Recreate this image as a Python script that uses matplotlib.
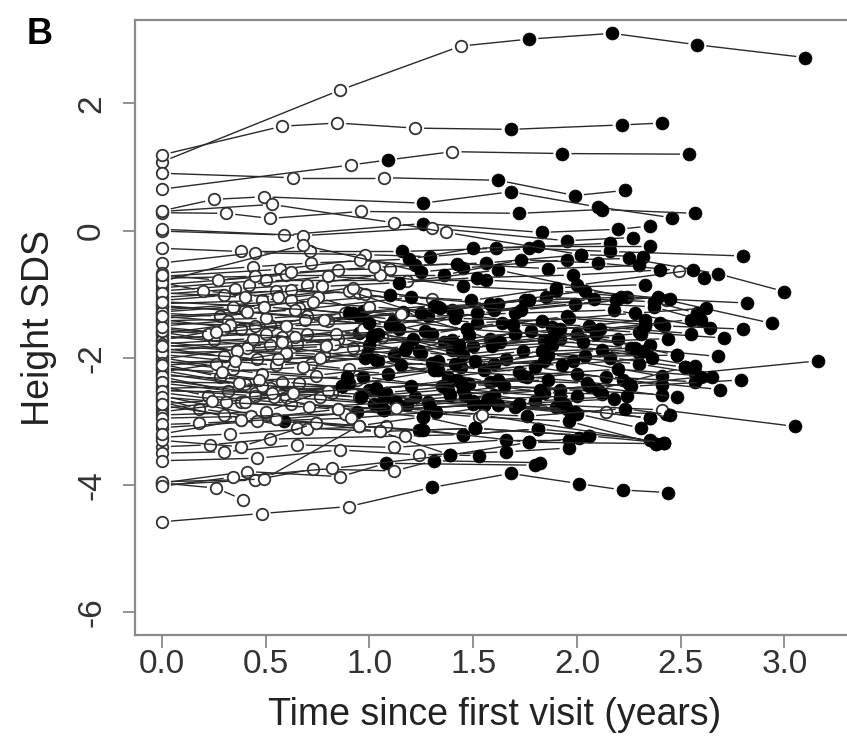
import numpy as np
import matplotlib
matplotlib.use("Agg")
import matplotlib.pyplot as plt
from matplotlib.collections import LineCollection

plt.rcParams['font.family'] = ['Liberation Sans', 'DejaVu Sans']

# one entry per child: visit times (years), height SDS, and marker per visit
# ('o' = open circle, 'f' = filled circle)
visit_times = [
    [0, 0.86, 1.44, 1.77, 2.17, 2.58, 3.10],
    [0, 0.58, 0.845, 1.22, 1.68, 2.215, 2.41],
    [0, 0.91, 1.09, 1.40, 1.93, 2.54],
    [0, 0.63, 1.07, 1.62, 1.99, 2.23],
    [0, 0.25, 0.49, 1.26, 1.68, 2.10, 2.46],
    [0, 0.31, 0.52, 0.96, 1.72, 2.12, 2.57],
    [0, 0.59, 1.26, 1.83, 2.20, 2.35],
    [0, 0.68, 1.30, 1.95, 2.27],
    [0, 0.38, 0.715, 1.155, 1.61, 2.16],
    [0, 0.45, 0.98, 1.29, 1.77, 2.16, 2.80],
    [0, 0.44, 0.72, 1.19, 1.50, 1.81, 2.35],
    [0, 0.57, 0.955, 1.22, 1.56, 2.02, 2.32],
    [0, 0.68, 1.25, 1.45, 1.95, 2.25, 2.68, 3.00],
    [0, 0.60, 1.36, 1.73, 2.10, 2.49, 2.61],
    [0, 0.50, 1.56, 2.00, 2.56],
    [0, 0.53, 1.12, 1.37, 2.02],
    [0, 0.42, 0.80, 1.18, 1.62, 2.24, 2.82],
    [0, 0.35, 0.70, 1.05, 1.45, 1.90, 2.43, 2.94],
    [0, 0.55, 0.95, 1.40, 1.85, 2.37, 2.58],
    [0, 0.30, 0.62, 0.98, 1.33, 1.75, 2.37, 2.60],
    [0, 0.48, 0.90, 1.28, 1.70, 2.18, 2.64],
    [0, 0.40, 0.75, 0.97, 1.52, 1.96, 2.42, 2.80],
    [0, 0.62, 1.00, 1.42, 1.88, 2.30, 2.71],
    [0, 0.28, 0.66, 1.12, 1.47, 1.95, 2.40],
    [0, 0.52, 0.88, 1.30, 1.64, 2.06, 2.55],
    [0, 0.38, 0.80, 1.16, 1.58, 2.00, 2.48],
    [0, 0.45, 0.95, 1.36, 1.78, 2.20],
    [0, 0.32, 0.70, 1.06, 1.50, 1.92, 2.35],
    [0, 0.58, 0.97, 1.40, 1.84, 2.26, 2.68],
    [0, 0.25, 0.65, 1.02, 1.45, 1.88, 2.30],
    [0, 0.42, 0.85, 1.25, 1.66, 2.12, 2.57],
    [0, 0.50, 0.92, 1.33, 1.74, 2.16, 2.52],
    [0, 0.36, 0.78, 1.18, 1.60, 2.04, 2.48],
    [0, 0.60, 1.04, 1.44, 1.86, 2.30, 2.57, 3.16],
    [0, 0.30, 0.72, 1.12, 1.55, 1.98, 2.41],
    [0, 0.46, 0.90, 1.30, 1.72, 2.14, 2.57],
    [0, 0.55, 0.98, 1.38, 1.80, 2.22, 2.69],
    [0, 0.34, 0.74, 1.15, 1.58, 2.00, 2.41],
    [0, 0.48, 0.94, 1.35, 1.76, 2.26, 2.79],
    [0, 0.28, 0.66, 1.08, 1.48, 1.92, 2.41],
    [0, 0.58, 1.00, 1.42, 1.84, 2.12],
    [0, 0.40, 0.82, 1.22, 1.65, 2.10, 2.52],
    [0, 0.52, 0.95, 1.38, 1.80, 2.24],
    [0, 0.32, 0.76, 1.18, 1.60, 2.06, 2.48],
    [0, 0.45, 0.87, 1.28, 1.70, 2.14, 2.43],
    [0, 0.60, 1.02, 1.46, 1.90, 2.35],
    [0, 0.22, 0.62, 1.06, 1.50, 1.94, 2.41, 3.05],
    [0, 0.45, 0.94, 1.55, 2.00, 2.31],
    [0, 0.38, 0.85, 1.26, 1.62, 2.14],
    [0, 0.55, 1.07, 1.53, 1.96, 2.38],
    [0, 0.18, 0.59, 0.95, 1.45, 1.81, 2.35],
    [0, 0.38, 0.74, 1.24, 1.51, 2.06, 2.42],
    [0, 0.30, 0.65, 1.05, 1.39, 1.77, 2.01],
    [0, 0.54, 0.87, 1.07, 1.50, 1.95, 2.35],
    [0, 0.40, 0.90, 1.07, 1.55, 1.99],
    [0, 0.50, 0.97, 1.45, 1.92],
    [0, 0.45, 0.85, 1.10],
    [0, 0.33, 0.95, 1.25, 1.62],
    [0, 0.52, 1.03, 1.40, 1.92, 2.33],
    [0, 0.26, 0.60, 1.00, 1.48],
    [0, 0.70, 1.14, 1.60, 2.08],
    [0, 0.48, 0.87, 1.33, 1.84, 2.32],
    [0, 0.20, 0.56, 0.92, 1.30],
    [0, 0.64, 1.20, 1.58, 2.04, 2.45],
    [0, 0.41, 0.83, 1.24, 1.70],
    [0, 0.30, 0.69, 1.10, 1.52, 1.99, 2.39],
    [0, 0.27, 0.62, 1.02, 1.42, 1.86, 2.30],
    [0, 0.40, 0.77, 1.14, 1.52, 1.98, 2.40],
    [0, 0.34, 0.73, 1.10, 1.49, 1.90, 2.33],
    [0, 0.50, 0.90, 1.31, 1.73, 2.19],
    [0, 0.22, 0.60, 1.00, 1.41, 1.83, 2.28, 2.62],
    [0, 0.44, 0.84, 1.27, 1.69, 2.11, 2.55],
    [0, 0.36, 0.79, 1.21, 1.63, 2.09],
    [0, 0.56, 0.99, 1.41, 1.83, 2.28],
    [0, 0.29, 0.68, 1.09, 1.51, 1.93, 2.36],
    [0, 0.47, 0.89, 1.31, 1.74, 2.20, 2.65],
    [0, 0.37, 0.80, 1.20, 1.62, 2.05],
    [0, 0.53, 0.96, 1.39, 1.82, 2.25, 2.60],
    [0, 0.31, 0.71, 1.13, 1.57, 2.00],
    [0, 0.43, 0.88, 1.29, 1.72, 2.18],
    [0, 0.26, 0.64, 1.04, 1.47, 1.89, 2.33],
    [0, 0.49, 0.92, 1.34, 1.77, 2.21],
    [0, 0.35, 0.76, 1.17, 1.59, 2.03, 2.44],
    [0, 0.58, 1.01, 1.43, 1.87, 2.31],
    [0, 0.24, 0.63, 1.03, 1.44, 1.86],
    [0, 0.46, 0.91, 1.32, 1.76, 2.23, 2.45],
    [0, 0.33, 0.70, 1.08],
    [0, 0.41, 0.78, 1.15],
    [0, 0.23, 0.52, 1.17, 1.45, 1.81],
    [0, 0.30, 0.65, 1.12, 1.66, 1.96],
    [0, 0.46, 0.86, 1.24, 1.66, 1.96],
    [0, 0.38, 0.74, 1.05, 1.51, 2.06],
    [0, 0.18, 0.55, 0.95, 1.26, 1.77, 2.38],
    [0, 0.38, 0.85, 1.13, 1.54, 2.42],
    [0, 0.48, 0.90, 1.30, 1.68, 2.01, 2.22, 2.44],
    [0, 0.26, 0.39],
    [0, 0.41, 0.86, 1.08, 1.80],
    [0, 0.45, 0.73, 1.12, 1.31, 1.82],
    [0, 0.49, 0.95, 1.26, 1.51],
    [0, 0.34, 0.82, 1.39, 1.53],
]

height_sds = [
    [1.08, 2.21, 2.90, 3.01, 3.10, 2.92, 2.72],
    [1.19, 1.64, 1.69, 1.61, 1.59, 1.66, 1.69],
    [0.65, 1.03, 1.11, 1.24, 1.21, 1.20],
    [0.90, 0.83, 0.83, 0.79, 0.55, 0.63],
    [0.31, 0.49, 0.53, 0.43, 0.61, 0.37, 0.20],
    [0.28, 0.27, 0.19, 0.30, 0.27, 0.33, 0.27],
    [-0.01, -0.07, 0.11, -0.03, 0.02, 0.07],
    [0.02, -0.08, 0.04, -0.16, -0.11],
    [-0.28, -0.33, -0.33, -0.33, -0.28, -0.20],
    [-0.51, -0.35, -0.38, -0.41, -0.28, -0.33, -0.40],
    [-0.67, -0.57, -0.51, -0.45, -0.28, -0.25, -0.25],
    [-0.72, -0.61, -0.46, -0.55, -0.51, -0.38, -0.41],
    [-0.80, -0.23, -0.65, -0.59, -0.46, -0.44, -0.68, -0.96],
    [-0.85, -0.70, -0.70, -0.46, -0.51, -0.63, -0.75],
    [-0.90, -0.78, -0.78, -0.86, -0.62],
    [0.30, 0.41, 0.12, -0.03, -0.38],
    [-0.95, -0.85, -0.72, -0.80, -0.62, -1.05, -1.14],
    [-1.00, -0.92, -0.85, -0.70, -0.88, -0.95, -1.09, -1.46],
    [-1.05, -0.95, -0.98, -1.25, -1.05, -1.12, -1.30],
    [-1.10, -1.02, -0.93, -1.00, -1.20, -1.10, -1.20, -1.41],
    [-1.15, -1.10, -0.95, -1.35, -1.30, -1.25, -1.54],
    [-1.20, -1.25, -1.05, -1.27, -1.45, -1.38, -1.50, -1.55],
    [-1.25, -1.10, -1.20, -1.30, -1.52, -1.60, -1.69],
    [-1.30, -1.35, -1.22, -1.40, -1.55, -1.35, -1.45],
    [-1.35, -1.48, -1.30, -1.62, -1.45, -1.50, -1.62],
    [-1.40, -1.55, -1.42, -1.28, -1.70, -1.62, -1.96],
    [-1.45, -1.50, -1.61, -1.75, -1.58, -1.70],
    [-1.50, -1.42, -1.62, -1.68, -1.82, -1.70, -1.80],
    [-1.55, -1.68, -1.55, -1.88, -1.72, -1.85, -1.98],
    [-1.60, -1.72, -1.78, -1.65, -1.95, -1.80, -1.92],
    [-1.65, -1.80, -1.70, -1.92, -2.02, -1.88, -2.13],
    [-1.70, -1.62, -1.85, -2.05, -1.90, -2.00, -2.15],
    [-1.75, -1.88, -1.95, -1.82, -2.10, -1.98, -1.96],
    [-1.80, -1.95, -2.05, -2.15, -1.95, -2.10, -2.24, -2.05],
    [-1.85, -1.98, -2.10, -1.95, -2.20, -2.05, -2.29],
    [-1.90, -2.02, -2.18, -2.08, -2.22, -2.30, -2.38],
    [-1.95, -2.12, -2.00, -2.30, -2.15, -2.35, -2.50],
    [-2.00, -2.18, -2.28, -2.12, -2.38, -2.25, -2.43],
    [-2.05, -2.25, -2.35, -2.45, -2.30, -2.45, -2.35],
    [-2.10, -2.30, -2.40, -2.55, -2.42, -2.50, -2.58],
    [-2.15, -2.38, -2.50, -2.35, -2.55, -2.57],
    [-2.20, -2.42, -2.55, -2.62, -2.45, -2.50, -2.15],
    [-2.25, -2.48, -2.62, -2.50, -2.68, -2.60],
    [-2.30, -2.52, -2.62, -2.75, -2.58, -2.45, -2.62],
    [-2.35, -2.55, -2.45, -2.70, -2.78, -2.86, -2.88],
    [-2.40, -2.62, -2.72, -2.60, -2.78, -2.95],
    [-2.45, -2.60, -2.72, -2.80, -2.68, -2.75, -2.82, -3.08],
    [-2.50, -2.60, -2.85, -2.74, -2.88, -3.11],
    [-2.55, -2.70, -2.81, -2.93, -2.74, -2.86],
    [-2.60, -2.97, -2.82, -2.93, -3.00, -3.35],
    [-2.65, -2.80, -3.00, -3.07, -3.21, -3.12, -3.29],
    [-2.70, -2.98, -3.03, -3.14, -3.11, -3.23, -3.34],
    [-2.75, -2.90, -3.10, -3.16, -3.53, -3.33, -3.27],
    [-2.80, -2.61, -2.45, -2.61, -2.72, -2.80, -2.95],
    [-2.85, -2.70, -2.40, -2.82, -2.74, -2.85],
    [-2.90, -2.85, -2.30, -2.50, -2.62],
    [-0.75, -0.72, -0.62, -0.60],
    [-1.62, -1.48, -1.35, -1.30, -1.15],
    [-1.88, -1.80, -2.03, -1.72, -1.55, -1.40],
    [-2.22, -2.10, -1.92, -1.80, -1.65],
    [-1.18, -1.35, -1.55, -1.25, -1.08],
    [-2.48, -2.45, -2.45, -2.20, -2.05, -1.90],
    [-0.82, -0.95, -1.05, -0.90, -1.08],
    [-1.38, -1.25, -1.05, -1.15, -0.95, -1.08],
    [-2.02, -1.85, -1.78, -1.90, -1.62],
    [-1.72, -1.55, -1.40, -1.48, -1.30, -1.15, -1.05],
    [-0.70, -0.78, -0.66, -0.58, -0.52, -0.60, -0.55],
    [-0.98, -1.05, -0.88, -0.82, -0.74, -0.70, -0.62],
    [-1.28, -1.20, -1.12, -1.02, -1.10, -0.90, -0.85],
    [-1.42, -1.38, -1.30, -1.18, -1.25, -1.10],
    [-1.58, -1.62, -1.50, -1.45, -1.38, -1.42, -1.30, -1.22],
    [-1.78, -1.70, -1.62, -1.58, -1.48, -1.55, -1.40],
    [-1.92, -1.90, -1.82, -1.70, -1.75, -1.62],
    [-2.08, -2.02, -1.95, -2.10, -1.90, -1.85],
    [-2.18, -2.22, -2.15, -2.25, -2.05, -2.12, -2.00],
    [-2.28, -2.35, -2.30, -2.20, -2.28, -2.18, -2.30],
    [-2.38, -2.40, -2.52, -2.45, -2.35, -2.40],
    [-2.52, -2.55, -2.62, -2.58, -2.50, -2.42, -2.30],
    [-2.62, -2.70, -2.78, -2.70, -2.65, -2.60],
    [-2.95, -2.92, -2.88, -2.78, -2.72, -2.65],
    [-1.52, -1.60, -1.68, -1.62, -1.55, -1.65, -1.50],
    [-1.12, -1.20, -1.30, -1.22, -1.10, -1.05],
    [-2.12, -2.05, -2.00, -1.88, -1.82, -1.75, -1.70],
    [-1.82, -1.75, -1.68, -1.80, -1.72, -1.62],
    [-2.72, -2.68, -2.55, -2.48, -2.40, -2.35],
    [-3.10, -3.00, -2.95, -2.85, -2.92, -2.80, -2.90],
    [-3.25, -3.20, -3.12, -3.08],
    [-1.35, -1.28, -1.40, -1.32],
    [-3.40, -3.37, -3.28, -3.23, -3.21, -3.12],
    [-3.50, -3.48, -3.37, -3.41, -3.29, -3.29],
    [-3.62, -3.58, -3.45, -3.53, -3.48, -3.42],
    [-3.30, -3.40, -3.03, -3.16, -3.11, -3.23],
    [-3.05, -3.03, -2.97, -3.07, -3.14, -3.33, -3.35],
    [-3.20, -2.98, -2.81, -2.79, -2.90, -3.34],
    [-4.58, -4.45, -4.34, -4.04, -3.82, -3.98, -4.08, -4.12],
    [-3.97, -4.05, -4.23],
    [-3.97, -3.79, -3.87, -3.66, -3.69],
    [-4.00, -3.92, -3.75, -3.78, -3.62, -3.65],
    [-3.95, -3.91, -3.07, -2.93, -3.11],
    [-4.02, -3.88, -3.74, -3.53, -3.54],
]

visit_marker = [
    "oooffff", "oooofff", "oofoff", "ooofff", "oooffff", "oooofff",
    "ooffff", "oooff", "ooofff", "oooffff", "oooffff", "oooffff",
    "ooffffff", "oofffof", "oofff", "oooof",
    "oooofff", "ooooffof", "oooffff", "ooooffff", "oooffff", "ooofffff",
    "oooffff", "oooffff", "oooffff", "oooffff", "ooffff", "oooofff",
    "oooffff", "oooffff", "oooffff", "oooffff", "oooffff", "ooffffff",
    "oooffff", "oooffff", "oofffff", "oooffff", "oooffff", "oooffff",
    "ooffff", "oooffff", "ooofff", "oooffff", "oofffof", "ooffff",
    "ooofffof", "ooffff", "oooffo", "oofoff", "oofofff", "oooffff",
    "oooofff", "oofffff", "ooffff", "oofff",
    "oooo", "oofff", "ooffff", "oooff", "oofff", "ooffff", "ooooo",
    "ooffff", "oooff", "oooffff",
    "oooofff", "oooffff", "oooffff", "ooffff", "ooofffff", "oooffff",
    "ooofff", "ooffff", "oooffff", "oofffff", "ooofff", "oofffff",
    "ooofff", "ooofff", "oooffff", "ooffff", "oooffff", "ooffff",
    "ooofff", "oooffff", "oooo", "oooo",
    "ooooff", "ooooff", "ooooff", "ooooff", "oooofff", "ooooof",
    "ooofffff", "ooo", "oooff", "ooooff", "oooff", "oooff",
]

x_ticks = [0.0, 0.5, 1.0, 1.5, 2.0, 2.5, 3.0]
y_ticks = [-6, -4, -2, 0, 2]

W, H = 847, 738
fig = plt.figure(figsize=(W / 100, H / 100), dpi=100)
ax = fig.add_axes([135 / W, 1 - 635 / H, 720 / W, 615 / H])
ax.set_xlim(-0.13, 3.34)
ax.set_ylim(-6.36, 3.31)

line_col = '#2a2a2a'
gap = 9  # px gap between line ends and points, as in R type="b"
to_px = ax.transData
to_data = ax.transData.inverted()

for ts, vs, marks in zip(visit_times, height_sds, visit_marker):
    pts = to_px.transform(np.column_stack([ts, vs]))
    segs = []
    for p, q in zip(pts[:-1], pts[1:]):
        d = q - p
        L = np.hypot(d[0], d[1])
        if L <= 2 * gap + 2:
            continue
        u = d / L
        segs.append(to_data.transform([p + u * gap, q - u * gap]))
    ax.add_collection(LineCollection(segs, colors=line_col, linewidths=1.0, zorder=2))
    ts = np.asarray(ts)
    vs = np.asarray(vs)
    is_f = np.array([m == 'f' for m in marks])
    ax.plot(ts[~is_f], vs[~is_f], 'o', ls='none', ms=8.3, mfc='white',
            mec='#333333', mew=1.3, zorder=2)
    ax.plot(ts[is_f], vs[is_f], 'o', ls='none', ms=9.3, mfc='black',
            mec='black', mew=0.5, zorder=2)

for s in ax.spines.values():
    s.set_color('#8a8a8a')
    s.set_linewidth(1.6)

ax.set_xticks(x_ticks)
ax.set_xticklabels([f"{x:.1f}" for x in x_ticks])
ax.set_yticks(y_ticks)
ax.set_yticklabels([str(y) for y in y_ticks], rotation=90, va='center')
ax.tick_params(direction='out', length=9, width=1.3, color='#8a8a8a',
               labelsize=24, labelcolor='#333333')
ax.tick_params(axis='x', pad=1)
ax.tick_params(axis='y', pad=11)

ax.set_xlabel('Time since first visit (years)', fontsize=27, color='#222222', labelpad=12)
ax.set_ylabel('Height SDS', fontsize=27, color='#222222', labelpad=14)
fig.text(27 / W, 1 - 17 / H, 'B', fontsize=26, fontweight='bold', va='top', ha='left')

fig.savefig('out.png', dpi=100)
